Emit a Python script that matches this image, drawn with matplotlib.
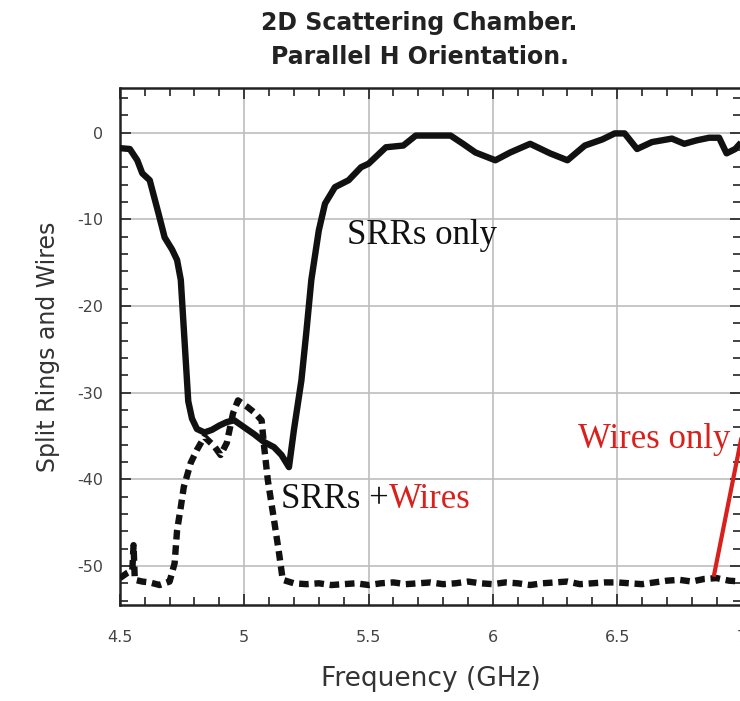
import matplotlib.pyplot as plt
from matplotlib.ticker import MultipleLocator

# SRRs only (solid)
srr_freq = [4.50, 4.54, 4.57, 4.59, 4.62, 4.655, 4.68, 4.71, 4.73, 4.745, 4.76,
            4.775, 4.79, 4.81, 4.84, 4.87, 4.90, 4.93, 4.96, 5.00, 5.04, 5.08,
            5.12, 5.15, 5.18, 5.20, 5.23, 5.25, 5.27, 5.30, 5.325, 5.365, 5.42,
            5.47, 5.50, 5.57, 5.64, 5.69, 5.76, 5.83, 5.88, 5.93, 6.01, 6.07,
            6.15, 6.23, 6.30, 6.37, 6.44, 6.49, 6.53, 6.58, 6.64, 6.72, 6.77,
            6.82, 6.87, 6.91, 6.94, 6.975, 7.00]
srr_vals = [-1.8, -1.9, -3.2, -4.7, -5.5, -9.3, -12.1, -13.5, -14.7, -17.0, -24.0,
            -31.0, -33.0, -34.2, -34.6, -34.3, -33.8, -33.4, -33.2, -34.0, -34.8, -35.7,
            -36.3, -37.2, -38.6, -34.3, -28.6, -23.0, -17.0, -11.3, -8.2, -6.3, -5.5,
            -4.0, -3.6, -1.7, -1.5, -0.35, -0.35, -0.35, -1.3, -2.3, -3.2, -2.3,
            -1.3, -2.4, -3.2, -1.5, -0.8, -0.1, -0.1, -1.9, -1.1, -0.7, -1.3,
            -0.9, -0.6, -0.6, -2.4, -1.9, -1.1]

# SRRs + Wires (dashed)
both_freq = [4.50, 4.53, 4.55, 4.555, 4.56, 4.59, 4.62, 4.66, 4.70, 4.72, 4.73,
             4.745, 4.757, 4.785, 4.81, 4.84, 4.88, 4.905, 4.93, 4.955, 4.975,
             5.015, 5.045, 5.07, 5.08, 5.095, 5.12, 5.14, 5.155, 5.20, 5.25,
             5.30, 5.35, 5.40, 5.45, 5.50, 5.55, 5.60, 5.65, 5.70, 5.75, 5.80,
             5.85, 5.90, 5.95, 6.00, 6.05, 6.10, 6.15, 6.20, 6.25, 6.30, 6.35,
             6.40, 6.45, 6.50, 6.55, 6.60, 6.65, 6.70, 6.75, 6.80, 6.85, 6.90,
             6.95, 7.00]
both_vals = [-51.4, -50.8, -50.5, -47.6, -51.6, -51.8, -51.9, -52.2, -51.8, -49.7, -45.9,
             -43.2, -40.9, -38.1, -36.6, -35.1, -36.2, -37.2, -35.8, -32.4, -30.9,
             -31.7, -32.4, -33.2, -36.2, -40.1, -44.7, -48.5, -51.6, -52.0, -52.1,
             -52.0, -52.2, -52.1, -52.0, -52.2, -52.0, -51.9, -52.1, -52.0, -51.9, -52.1,
             -52.0, -51.8, -52.0, -52.1, -51.9, -52.0, -52.2, -52.0, -51.9, -51.8, -52.1,
             -52.0, -51.9, -51.9, -52.0, -52.1, -51.9, -51.7, -51.6, -51.8, -51.5, -51.4,
             -51.7, -51.8]

x_ticks = [4.5, 5, 5.5, 6, 6.5, 7]
x_tick_labels = ["4.5", "5", "5.5", "6", "6.5", "7"]
y_ticks = [0, -10, -20, -30, -40, -50]
y_tick_labels = ["0", "-10", "-20", "-30", "-40", "-50"]

RED = "#d8211c"

fig = plt.figure(figsize=(7.40, 7.01), dpi=100)
ax = fig.add_axes([0.162, 0.137, 0.840, 0.737])

ax.plot(srr_freq, srr_vals, color="#111111", lw=4.6,
        solid_joinstyle="round", solid_capstyle="butt", zorder=3)
ax.plot(both_freq, both_vals, color="#111111", lw=4.6,
        linestyle=(0, (1.5, 0.9)), dash_capstyle="butt", zorder=3)

ax.set_xlim(4.5, 7.0)
ax.set_ylim(-54.5, 5.1)

ax.set_xticks(x_ticks)
ax.set_xticklabels(x_tick_labels)
ax.set_yticks(y_ticks)
ax.set_yticklabels(y_tick_labels)
ax.xaxis.set_minor_locator(MultipleLocator(0.1))
ax.yaxis.set_minor_locator(MultipleLocator(2))

ax.tick_params(which="both", direction="in", top=True, right=True,
               labelsize=11.5, labelcolor="#444444", width=1.2, color="#222222")
ax.tick_params(axis="x", which="major", length=8, pad=18)
ax.tick_params(axis="y", which="major", length=8, pad=12)
ax.tick_params(which="minor", length=6)

ax.grid(True, which="major", color="#bdbdbd", lw=1.2, zorder=0)
for s in ax.spines.values():
    s.set_linewidth(1.8)
    s.set_color("#222222")

ax.set_xlabel("Frequency (GHz)", fontsize=19, color="#333333", labelpad=15)
ax.set_ylabel("Split Rings and Wires", fontsize=17, color="#333333", labelpad=12)

fig.text(0.567, 0.985, "2D Scattering Chamber.\nParallel H Orientation.",
         ha="center", va="top", fontsize=17, fontweight="bold",
         color="#222222", linespacing=1.55)

# annotations
ax.text(5.415, -11.9, "SRRs only", fontsize=25, family="Liberation Serif",
        color="#111111", va="center", ha="left")
t = ax.text(5.15, -42.3, "SRRs +", fontsize=25, family="Liberation Serif",
            color="#111111", va="center", ha="left")
ax.annotate("Wires", xy=(1, 0), xycoords=t, va="bottom", ha="left",
            fontsize=25, family="Liberation Serif", color=RED)
ax.text(6.955, -35.4, "Wires only", fontsize=25, family="Liberation Serif",
        color=RED, va="center", ha="right")
ax.plot([6.89, 7.015], [-51.0, -33.0], color=RED, lw=3.0,
        clip_on=False, zorder=4)

plt.savefig("out.png", dpi=100)
plt.close()
